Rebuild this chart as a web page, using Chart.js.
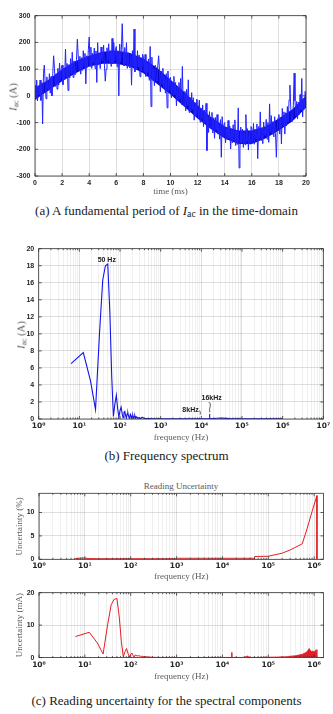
<!DOCTYPE html>
<html>
<head>
<meta charset="utf-8">
<script src="https://cdn.jsdelivr.net/npm/chart.js@4.4.1/dist/chart.umd.min.js"></script>
<style>
  html, body { margin: 0; padding: 0; background: #fff; }
  #page { position: relative; width: 333px; height: 714px; overflow: hidden; }
  #page canvas { position: absolute; left: 0; }
  .cap { position: absolute; left: 0; width: 333px; text-align: center; font-family: "Liberation Serif", serif; font-size: 13px; color: #1a1a1a; white-space: nowrap; transform: translateY(-50%); }
  .ytitle { position: absolute; font-family: "Liberation Serif", serif; font-size: 10.5px; color: #5a5a5a; white-space: nowrap; transform: translate(-50%, -50%) rotate(-90deg); }
  .ptitle { position: absolute; font-family: "Liberation Serif", serif; font-size: 9px; color: #5a5a5a; white-space: nowrap; transform: translate(-50%, -50%); }
  sub { font-size: 75%; vertical-align: -0.25em; line-height: 0; }
</style>
</head>
<body>
<div id="page">
  <canvas id="timeChart" width="333" height="197" style="top:0px"></canvas>
  <div class="ytitle" style="left:13px; top:97px"><i>I</i><sub>ac</sub> (A)</div>
  <div class="cap" style="top:211px">(a) A fundamental period of <i>I</i><sub>ac</sub> in the time-domain</div>

  <canvas id="specChart" width="333" height="203" style="top:240px"></canvas>
  <div class="ytitle" style="left:21px; top:335px"><i>I</i><sub>ac</sub> (A)</div>
  <div class="cap" style="top:456px">(b) Frequency spectrum</div>

  <div class="ptitle" style="left:181px; top:486px">Reading Uncertainty</div>
  <canvas id="pctChart" width="333" height="112" style="top:470px"></canvas>
  <canvas id="maChart" width="333" height="100" style="top:582px"></canvas>
  <div class="cap" style="top:701px">(c) Reading uncertainty for the spectral components</div>
</div>

<script>
// ---- (a) AC current over one fundamental period, sampled every 1/16 ms ----
const sampleStepMs = 0.0625;
const iacSamples = [
  40, -13, 59, -19, 38, 4, 59, -17, 50, -105, 84, 115, 48, -11, 71, 28,
  20, 83, 10, 73, 0, 83, 150, 103, 35, 83, 25, 103, 40, 123, 55, 103,
  115, 42, 104, 61, 175, 71, 121, 20, 117, 67, 139, 81, 163, 69, 131, 80,
  80, 137, 212, 153, 96, 148, 81, 143, 95, 169, 111, 159, 45, 150, 107, 173,
  220, 111, 182, 103, 159, 125, 179, 102, 168, 50, 199, 115, 161, 102, 183, 139,
  130, 190, 115, 55, 100, 180, 135, 195, 125, 170, 110, 215, 120, 200, 130, 175,
  185, 109, 168, 0, 194, 127, 174, 270, 165, 112, 181, 120, 199, 103, 162, 108,
  105, 159, 40, 169, 110, 250, 90, 148, 97, 169, 108, 153, 72, 139, 93, 156,
  145, 88, 155, 73, 125, 88, 138, 58, 185, -40, 145, 58, 100, 38, 115, 68,
  55, 113, 150, 93, 15, 93, 45, 103, 30, 73, 10, 83, -45, 93, 20, 63,
  70, -7, 50, 3, 73, 5, 50, -37, 37, -17, 50, -12, 65, -32, 110, -31,
  -35, 17, -56, 24, -38, 60, -62, -5, -58, 12, -51, -7, -91, -26, -74, -12,
  -25, -83, -16, -98, -46, -84, -34, -115, -53, -100, -28, -205, -74, -137, -59, -107,
  -120, -62, -139, -82, -159, -81, -128, -70, -143, -100, -162, -89, -230, -78, -151, -108,
  -100, -176, -118, -164, -92, -159, -113, -199, -123, -176, -108, -169, -90, -186, -128, -182,
  -45, -270, -200, -117, -175, -125, -193, -133, -183, -70, -170, -123, -203, -135, -180, -115,
  -120, -174, -103, -181, -125, -159, -105, -235, -115, -159, -60, -166, -120, -179, -98, -141,
  -150, -88, -162, -100, -174, -30, -136, -74, -143, -96, -154, -78, -141, -230, -128, -82,
  -70, -143, -80, -180, -47, -111, -60, -143, -63, -113, -40, -98, -15, 40, -45, -96,
  -95, -37, 85, -19, -74, -21, -86, -23, -70, 5, -52, 65, -79, -8, -50, 17,
  -10
];
// dense core of the ripple band, read every 1 ms
const bandTimeMs = [0, 1, 2, 3, 4, 5, 6, 7, 8, 9, 10, 11, 12, 13, 14, 15, 16, 17, 18, 19, 20];
const bandUpper = [30, 60, 100, 130, 150, 165, 170, 160, 140, 105, 60, 15, -35, -80, -115, -130, -130, -115, -85, -50, 0];
const bandLower = [-15, 20, 55, 85, 110, 120, 120, 110, 85, 45, 5, -40, -85, -125, -160, -180, -180, -160, -130, -95, -45];

// ---- (b) amplitude spectrum ----
const specFreq = [
  6.25, 12.5, 18.75, 25, 31.25, 37.5, 43.75, 50, 56.25, 62.5, 68.75, 75, 81.25, 87.5, 93.75,
  100, 106.25, 112.5, 118.75, 125, 131.25, 137.5, 143.75, 150, 156.25, 162.5, 168.75, 175,
  181.25, 187.5, 193.75, 200, 206.25, 212.5, 218.75, 225, 231.25, 237.5, 243.75, 250, 262.5,
  275, 300, 325, 350, 400, 500, 700, 1000, 2000, 4000, 7900, 8000, 8100, 12000, 15900, 16000,
  16100, 24000, 32000, 48000, 100000, 200000, 500000, 1000000
];
const specAmp = [
  6.5, 7.8, 4.5, 1.1, 10, 16.3, 18.0, 18.2, 12.5, 5, 0.3, 1.8, 2.8, 1.2, 0.2,
  1.0, 1.4, 0.7, 0.15, 0.8, 0.9, 0.4, 0.1, 0.6, 0.7, 0.3, 0.1, 0.4,
  0.55, 0.3, 0.1, 0.35, 0.45, 0.2, 0.08, 0.3, 0.4, 0.2, 0.05, 0.25, 0.2,
  0.05, 0.15, 0.05, 0.2, 0.05, 0.04, 0.02, 0.03, 0.02, 0.03, 0.02, 0.12, 0.02, 0.03, 0.02, 0.6,
  0.02, 0.08, 0.1, 0.05, 0.03, 0.02, 0.02, 0.02
];
const peakLabels = ['50 Hz', '8kHz', '16kHz'];
const peakFreqs = [50, 8000, 16000];

// ---- (c) reading uncertainty ----
const pctFreq = [6.25, 9, 12.5, 18.75, 100, 1000, 1050, 50000, 50500, 100000, 200000, 300000, 550000, 700000, 900000, 1150000, 1150500];
const pctVal = [0.15, 0.3, 0.15, 0.12, 0.12, 0.12, 0.22, 0.22, 0.6, 0.65, 1.3, 2.0, 3.3, 6.5, 10.2, 13.6, 0];

const maFreq = [
  6.25, 12.5, 18.75, 25, 31.25, 37.5, 43.75, 50, 56.25, 62.5, 68.75, 75, 81.25, 87.5, 93.75,
  100, 106.25, 112.5, 118.75, 125, 137.5, 150, 162.5, 175, 187.5, 200, 225, 250, 300, 400,
  600, 1000, 2000, 5000, 10000, 15900, 16000, 16100, 30000, 35000, 36000, 60000, 100000, 150000
];
const maVal = [
  6.5, 7.8, 4.5, 1.1, 10, 16.3, 18.0, 18.2, 12.5, 5, 0.3, 1.8, 2.8, 1.2, 0.2,
  1.0, 1.4, 0.7, 0.15, 0.8, 0.5, 0.6, 0.4, 0.4, 0.35, 0.3, 0.25, 0.2, 0.1, 0.05,
  0.05, 0.03, 0.03, 0.05, 0.05, 0.05, 1.6, 0.05, 0.05, 0.5, 0.05, 0.05, 0.1, 0.15
];
const noiseFreq = [150000, 250000, 400000, 550000, 650000, 720000, 780000, 830000, 880000, 950000, 1000000, 1050000, 1100000, 1150000, 1152000];
const noiseVal = [0.15, 0.3, 0.6, 1.0, 1.5, 2.0, 2.8, 2.2, 1.9, 2.0, 1.7, 2.0, 2.4, 2.5, 0];

const decadeLabels = ['10⁰', '10¹', '10²', '10³', '10⁴', '10⁵', '10⁶', '10⁷'];

// ---- shared styling ----
const tickFont = { family: 'Liberation Sans', size: 7, weight: 'bold' };
const logTickFont = { family: 'DejaVu Sans', size: 7.5, weight: 'bold' };
const titleFont = { family: 'Liberation Serif', size: 9 };
const gridMajor = 'rgba(0,0,0,0.16)';
const gridMinor = 'rgba(0,0,0,0.08)';
const blue = 'rgb(20,20,235)';
const red = 'rgb(228,28,36)';

Chart.defaults.color = '#262626';
Chart.defaults.font.family = 'Liberation Sans';

const pairs = (xs, ys) => xs.map((x, i) => ({ x: x, y: ys[i] }));

function isDecade(v) {
  const e = Math.log10(v);
  return Math.abs(e - Math.round(e)) < 1e-9;
}

// 1..9 x 10^n ticks so the log grid gets its minor lines
function logTicks(scale) {
  const out = [];
  for (let e = 0; e <= 7; e++) {
    for (let m = 1; m <= 9; m++) {
      const v = m * Math.pow(10, e);
      if (v >= scale.min && v <= scale.max * 1.0001) out.push({ value: v, major: m === 1 });
    }
  }
  scale.ticks = out;
}

function logAxis(max, height, titlePad) {
  return {
    type: 'logarithmic',
    min: 1,
    max: max,
    afterBuildTicks: logTicks,
    afterFit: s => { s.height = height; },
    border: { display: false },
    grid: { drawTicks: false, color: c => (c.tick && isDecade(c.tick.value)) ? gridMajor : gridMinor, lineWidth: 0.8 },
    ticks: {
      font: logTickFont, padding: 2.5, autoSkip: false, maxRotation: 0, minRotation: 0,
      callback: v => isDecade(v) ? decadeLabels[Math.round(Math.log10(v))] : ''
    },
    title: { display: true, text: 'frequency (Hz)', font: titleFont, color: '#5a5a5a', padding: { top: 0, bottom: titlePad } }
  };
}

function linearY(min, max, step, width, extra) {
  return Object.assign({
    min: min,
    max: max,
    afterFit: s => { s.width = width; },
    border: { display: false },
    grid: { drawTicks: false, color: gridMajor, lineWidth: 0.8 },
    ticks: { font: tickFont, padding: 4.5, stepSize: step, includeBounds: false }
  }, extra || {});
}

// box around the plot area plus short inward tick marks, MATLAB style
const frame = {
  id: 'frame',
  afterDraw(chart) {
    const { ctx, chartArea: a, scales } = chart;
    ctx.save();
    ctx.strokeStyle = '#333';
    ctx.lineWidth = 0.8;
    ['x', 'y'].forEach(id => {
      const s = scales[id];
      s.ticks.forEach(t => {
        const len = (s.type === 'logarithmic' && !isDecade(t.value)) ? 1.5 : 3;
        const p = s.getPixelForValue(t.value);
        ctx.beginPath();
        if (id === 'x') {
          ctx.moveTo(p, a.bottom); ctx.lineTo(p, a.bottom - len);
          ctx.moveTo(p, a.top); ctx.lineTo(p, a.top + len);
        } else {
          ctx.moveTo(a.left, p); ctx.lineTo(a.left + len, p);
          ctx.moveTo(a.right, p); ctx.lineTo(a.right - len, p);
        }
        ctx.stroke();
      });
    });
    ctx.strokeRect(a.left, a.top, a.right - a.left, a.bottom - a.top);
    ctx.restore();
  }
};

const baseOptions = {
  responsive: false,
  animation: false,
  devicePixelRatio: 1,
  plugins: { legend: { display: false }, tooltip: { enabled: false } },
  elements: { point: { radius: 0 }, line: { tension: 0 } }
};

// ---- (a) time domain: raw samples over the filled ripple core ----
new Chart(document.getElementById('timeChart'), {
  type: 'line',
  data: {
    datasets: [
      {
        data: iacSamples.map((v, i) => ({ x: i * sampleStepMs, y: v })),
        borderColor: 'rgb(35,35,255)',
        borderWidth: 1
      },
      {
        data: pairs(bandTimeMs, bandUpper),
        borderWidth: 0,
        borderColor: 'rgba(0,0,0,0)',
        backgroundColor: 'rgb(8,8,205)',
        fill: '+1'
      },
      {
        data: pairs(bandTimeMs, bandLower),
        borderWidth: 0,
        borderColor: 'rgba(0,0,0,0)'
      }
    ]
  },
  options: Object.assign({}, baseOptions, {
    layout: { padding: { left: 0, right: 27, top: 15.7, bottom: 0 } },
    scales: {
      x: {
        type: 'linear', min: 0, max: 20,
        afterFit: s => { s.height = 21; },
        border: { display: false },
        grid: { drawTicks: false, color: gridMajor, lineWidth: 0.8 },
        ticks: { font: tickFont, padding: 3, stepSize: 2 },
        title: { display: true, text: 'time (ms)', font: titleFont, color: '#5a5a5a', padding: { top: 0, bottom: 0 } }
      },
      y: linearY(-300, 300, 100, 35)
    }
  }),
  plugins: [frame]
});

// ---- (b) spectrum with peak notes ----
const peakNotes = {
  id: 'peakNotes',
  afterDatasetsDraw(chart) {
    const { ctx, scales: { x, y } } = chart;
    const base = y.getPixelForValue(0);
    ctx.save();
    ctx.font = 'bold 7px "Liberation Sans"';
    ctx.fillStyle = '#1a1a1a';
    ctx.strokeStyle = '#1a1a1a';
    ctx.lineWidth = 0.7;

    // fundamental
    let px = x.getPixelForValue(peakFreqs[0]);
    ctx.textAlign = 'center';
    ctx.textBaseline = 'bottom';
    ctx.fillText(peakLabels[0], px - 1, y.getPixelForValue(specAmp[specFreq.indexOf(peakFreqs[0])]) - 0.5);

    // switching harmonic at 8 kHz
    ctx.textBaseline = 'alphabetic';
    px = x.getPixelForValue(peakFreqs[1]);
    ctx.textAlign = 'right';
    ctx.fillText(peakLabels[1], px + 1.3, base - 7);
    ctx.beginPath();
    ctx.moveTo(px + 2, base - 8.5);
    ctx.quadraticCurveTo(px + 3.6, base - 7, px + 2.8, base - 4.5);
    ctx.stroke();

    // 16 kHz with a small brace down to its bin
    px = x.getPixelForValue(peakFreqs[2]);
    ctx.textAlign = 'center';
    ctx.fillText(peakLabels[2], px + 2, base - 19);
    ctx.beginPath();
    ctx.moveTo(px - 0.8, base - 17);
    ctx.quadraticCurveTo(px + 1.5, base - 15.5, px + 0.6, base - 12.5);
    ctx.quadraticCurveTo(px - 0.5, base - 10, px + 0.2, base - 6.5);
    ctx.stroke();
    ctx.restore();
  }
};

new Chart(document.getElementById('specChart'), {
  type: 'line',
  data: {
    datasets: [{ data: pairs(specFreq, specAmp), borderColor: blue, borderWidth: 1.1 }]
  },
  options: Object.assign({}, baseOptions, {
    layout: { padding: { left: 0, right: 9.7, top: 7, bottom: 0 } },
    scales: {
      x: logAxis(1e7, 24, 0),
      y: linearY(0, 20, 2, 38.7)
    }
  }),
  plugins: [frame, peakNotes]
});

// ---- (c) reading uncertainty, percent and absolute ----
const uncTitle = (text) => ({
  display: true, text: text, font: titleFont, color: '#5a5a5a', padding: { top: 14.6, bottom: 0 }
});

new Chart(document.getElementById('pctChart'), {
  type: 'line',
  data: {
    datasets: [{ data: pairs(pctFreq, pctVal), borderColor: red, borderWidth: 1 }]
  },
  options: Object.assign({}, baseOptions, {
    layout: { padding: { left: 0, right: 9.5, top: 23.3, bottom: 0 } },
    scales: {
      x: logAxis(1.6e6, 22.7, 0),
      y: linearY(0, 14.1, 5, 39, { title: uncTitle('Uncertainty (%)') })
    }
  }),
  plugins: [frame]
});

new Chart(document.getElementById('maChart'), {
  type: 'line',
  data: {
    datasets: [
      { data: pairs(maFreq, maVal), borderColor: red, borderWidth: 1 },
      { data: pairs(noiseFreq, noiseVal), borderColor: red, backgroundColor: red, borderWidth: 0.8, fill: 'origin' }
    ]
  },
  options: Object.assign({}, baseOptions, {
    layout: { padding: { left: 0, right: 9.5, top: 10.7, bottom: 0 } },
    scales: {
      x: logAxis(1.6e6, 24.4, 0),
      y: linearY(0, 20, 10, 39, { title: uncTitle('Uncertainty (mA)') })
    }
  }),
  plugins: [frame]
});
</script>
</body>
</html>
